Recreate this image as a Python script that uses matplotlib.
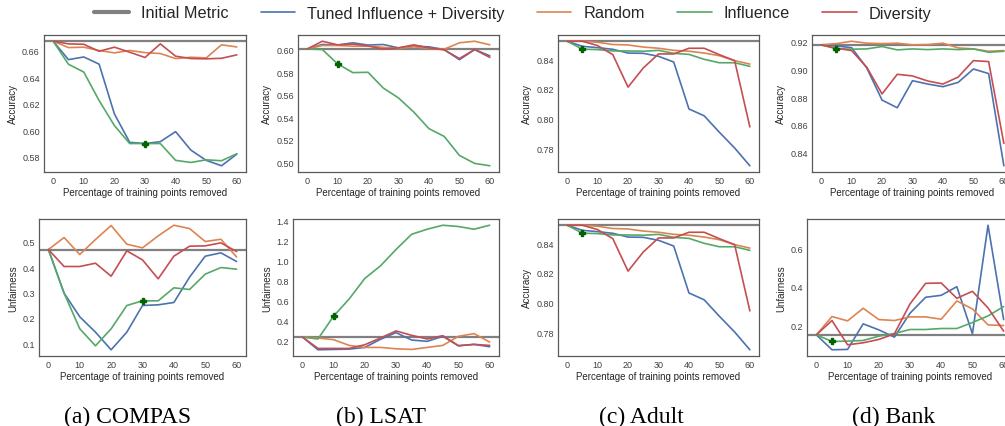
import matplotlib
matplotlib.use('Agg')
import matplotlib.pyplot as plt
from matplotlib.lines import Line2D
import seaborn as sns

sns.set_style('white')
plt.rcParams['font.family'] = ['Liberation Sans', 'DejaVu Sans']

pct = [0, 5, 10, 15, 20, 25, 30, 35, 40, 45, 50, 55, 60]

# ---- accuracy ----
compas_acc_init = 0.6673
compas_acc_tuned = [0.6673, 0.6534, 0.6554, 0.6500, 0.6124, 0.5909, 0.5900, 0.5914, 0.5990, 0.5850, 0.5773, 0.5732, 0.5820]
compas_acc_random = [0.6673, 0.6625, 0.6628, 0.6603, 0.6585, 0.6603, 0.6587, 0.6580, 0.6542, 0.6552, 0.6547, 0.6646, 0.6630]
compas_acc_infl = [0.6673, 0.6499, 0.6440, 0.6225, 0.6036, 0.5900, 0.5900, 0.5900, 0.5773, 0.5757, 0.5777, 0.5770, 0.5823]
compas_acc_div = [0.6673, 0.6653, 0.6650, 0.6597, 0.6628, 0.6590, 0.6550, 0.6653, 0.6560, 0.6542, 0.6540, 0.6544, 0.6570]

lsat_acc_init = 0.6005
lsat_acc_tuned = [0.6005, 0.6045, 0.6040, 0.6060, 0.6040, 0.6045, 0.6015, 0.6030, 0.6024, 0.6000, 0.5910, 0.6000, 0.5944]
lsat_acc_random = [0.6005, 0.6036, 0.6036, 0.6030, 0.6030, 0.6020, 0.6010, 0.6024, 0.6010, 0.6003, 0.6060, 0.6074, 0.6042]
lsat_acc_infl = [0.6005, 0.6000, 0.5873, 0.5795, 0.5798, 0.5658, 0.5570, 0.5445, 0.5297, 0.5228, 0.5059, 0.4988, 0.4967]
lsat_acc_div = [0.6005, 0.6074, 0.6042, 0.6048, 0.6033, 0.6003, 0.6015, 0.6042, 0.6015, 0.5997, 0.5920, 0.6000, 0.5930]

adult_acc_init = 0.8519
adult_acc_tuned = [0.8519, 0.8485, 0.8476, 0.8465, 0.8440, 0.8438, 0.8418, 0.8380, 0.8066, 0.8020, 0.7910, 0.7805, 0.7686]
adult_acc_random = [0.8519, 0.8519, 0.8512, 0.8497, 0.8494, 0.8480, 0.8472, 0.8458, 0.8452, 0.8440, 0.8422, 0.8389, 0.8366]
adult_acc_infl = [0.8519, 0.8466, 0.8463, 0.8454, 0.8454, 0.8452, 0.8458, 0.8438, 0.8431, 0.8398, 0.8375, 0.8375, 0.8351]
adult_acc_div = [0.8519, 0.8519, 0.8490, 0.8429, 0.8212, 0.8340, 0.8434, 0.8434, 0.8472, 0.8472, 0.8429, 0.8389, 0.7946]

bank_acc_init = 0.9174
bank_acc_tuned = [0.9174, 0.9166, 0.9154, 0.9008, 0.8778, 0.8723, 0.8917, 0.8893, 0.8874, 0.8905, 0.9001, 0.8968, 0.8307]
bank_acc_random = [0.9174, 0.9183, 0.9200, 0.9186, 0.9183, 0.9186, 0.9174, 0.9176, 0.9186, 0.9152, 0.9145, 0.9128, 0.9133]
bank_acc_infl = [0.9174, 0.9146, 0.9143, 0.9145, 0.9162, 0.9138, 0.9145, 0.9140, 0.9145, 0.9140, 0.9145, 0.9121, 0.9128]
bank_acc_div = [0.9174, 0.9150, 0.9133, 0.9013, 0.8822, 0.8963, 0.8951, 0.8915, 0.8893, 0.8943, 0.9061, 0.9054, 0.8467]

# ---- unfairness ----
compas_unf_init = 0.4686
compas_unf_tuned = [0.4686, 0.2974, 0.2046, 0.1444, 0.0752, 0.1444, 0.2490, 0.2516, 0.2608, 0.3601, 0.4425, 0.4556, 0.4216]
compas_unf_random = [0.4686, 0.5157, 0.4490, 0.5080, 0.5627, 0.4895, 0.4752, 0.5222, 0.5640, 0.5510, 0.5000, 0.5090, 0.4395]
compas_unf_infl = [0.4686, 0.2974, 0.1575, 0.0908, 0.1575, 0.2490, 0.2673, 0.2673, 0.3183, 0.3118, 0.3719, 0.3980, 0.3915]
compas_unf_div = [0.4686, 0.4020, 0.4020, 0.4150, 0.3640, 0.4634, 0.4280, 0.3536, 0.4425, 0.4817, 0.4830, 0.4948, 0.4608]

lsat_unf_init = 0.2338
lsat_unf_tuned = [0.2338, 0.1054, 0.1088, 0.1120, 0.1290, 0.2100, 0.2777, 0.2034, 0.1900, 0.2406, 0.1460, 0.1595, 0.1358]
lsat_unf_random = [0.2338, 0.2236, 0.2068, 0.1493, 0.1290, 0.1290, 0.1155, 0.1088, 0.1290, 0.1493, 0.2406, 0.2676, 0.1831]
lsat_unf_infl = [0.2338, 0.2135, 0.4430, 0.6155, 0.8216, 0.9470, 1.1120, 1.2650, 1.3160, 1.3560, 1.3430, 1.3160, 1.3560]
lsat_unf_div = [0.2338, 0.1190, 0.1190, 0.1190, 0.1560, 0.2236, 0.2946, 0.2507, 0.2135, 0.2470, 0.1460, 0.1595, 0.1493]

bank_unf_init = 0.1517
bank_unf_tuned = [0.1517, 0.0741, 0.0759, 0.2086, 0.1776, 0.1397, 0.2638, 0.3466, 0.3569, 0.4017, 0.1569, 0.7207, 0.2310]
bank_unf_random = [0.1517, 0.2466, 0.2241, 0.2897, 0.2310, 0.2259, 0.2448, 0.2448, 0.2328, 0.3276, 0.2862, 0.2034, 0.2000]
bank_unf_infl = [0.1517, 0.1172, 0.1190, 0.1224, 0.1448, 0.1586, 0.1793, 0.1793, 0.1845, 0.1845, 0.2155, 0.2500, 0.2983]
bank_unf_div = [0.1517, 0.2259, 0.1000, 0.1103, 0.1276, 0.1569, 0.3120, 0.4190, 0.4207, 0.3414, 0.3776, 0.2914, 0.1707]

# chosen influence points (index into pct)
compas_acc_pick = 6
lsat_acc_pick = 2
adult_acc_pick = 1
bank_acc_pick = 1
compas_unf_pick = 6
lsat_unf_pick = 2
bank_unf_pick = 1

labels = ['Initial Metric', 'Tuned Influence + Diversity', 'Random', 'Influence', 'Diversity']
captions = ['(a) COMPAS', '(b) LSAT', '(c) Adult', '(d) Bank']

c_init = '#808080'
c_tuned = '#4C72B0'
c_random = '#DD8452'
c_infl = '#55A868'
c_div = '#C44E52'

W, H = 1005, 427
fig = plt.figure(figsize=(W / 100, H / 100), dpi=100)


def px_axes(left, top, width, height):
    return fig.add_axes([left / W, 1 - (top + height) / H, width / W, height / H])


def draw_panel(ax, init, tuned, random, infl, div, pick, ylabel):
    ax.axhline(init, color=c_init, lw=1.6)
    ax.plot(pct, tuned, color=c_tuned, lw=1.2)
    ax.plot(pct, random, color=c_random, lw=1.2)
    ax.plot(pct, infl, color=c_infl, lw=1.2)
    ax.plot(pct, div, color=c_div, lw=1.2)
    ax.plot(pct[pick], infl[pick], marker='P', color='darkgreen', ms=4.5, zorder=5)
    ax.set_xticks([0, 10, 20, 30, 40, 50, 60])
    ax.tick_params(labelsize=6.5, colors='.25', length=0, pad=3)
    ax.set_xlabel('Percentage of training points removed', fontsize=7, color='.15', labelpad=1)
    ax.set_ylabel(ylabel, fontsize=7, color='.15', labelpad=3)
    for s in ax.spines.values():
        s.set_color('.35')
        s.set_linewidth(0.9)


ax1 = px_axes(44, 36, 202, 137)
ax2 = px_axes(298, 36, 201, 137)
ax3 = px_axes(558, 36, 201, 137)
ax4 = px_axes(812, 36, 201, 137)
ax5 = px_axes(39, 220, 207, 137)
ax6 = px_axes(293, 220, 206, 137)
ax7 = px_axes(558, 220, 201, 137)
ax8 = px_axes(807, 220, 206, 137)

draw_panel(ax1, compas_acc_init, compas_acc_tuned, compas_acc_random, compas_acc_infl, compas_acc_div, compas_acc_pick, 'Accuracy')
draw_panel(ax2, lsat_acc_init, lsat_acc_tuned, lsat_acc_random, lsat_acc_infl, lsat_acc_div, lsat_acc_pick, 'Accuracy')
draw_panel(ax3, adult_acc_init, adult_acc_tuned, adult_acc_random, adult_acc_infl, adult_acc_div, adult_acc_pick, 'Accuracy')
draw_panel(ax4, bank_acc_init, bank_acc_tuned, bank_acc_random, bank_acc_infl, bank_acc_div, bank_acc_pick, 'Accuracy')
draw_panel(ax5, compas_unf_init, compas_unf_tuned, compas_unf_random, compas_unf_infl, compas_unf_div, compas_unf_pick, 'Unfairness')
draw_panel(ax6, lsat_unf_init, lsat_unf_tuned, lsat_unf_random, lsat_unf_infl, lsat_unf_div, lsat_unf_pick, 'Unfairness')
draw_panel(ax7, adult_acc_init, adult_acc_tuned, adult_acc_random, adult_acc_infl, adult_acc_div, adult_acc_pick, 'Accuracy')
draw_panel(ax8, bank_unf_init, bank_unf_tuned, bank_unf_random, bank_unf_infl, bank_unf_div, bank_unf_pick, 'Unfairness')

ax5.set_yticks([0.1, 0.2, 0.3, 0.4, 0.5])
ax8.set_yticks([0.2, 0.4, 0.6])

handles = [Line2D([], [], color=c_init, lw=3),
           Line2D([], [], color=c_tuned, lw=1.2),
           Line2D([], [], color=c_random, lw=1.2),
           Line2D([], [], color=c_infl, lw=1.2),
           Line2D([], [], color=c_div, lw=1.2)]
fig.legend(handles, labels, loc='center', bbox_to_anchor=(513 / W, 1 - 14 / H),
           ncol=5, frameon=False, fontsize=11.7, handlelength=2.1,
           handletextpad=0.75, columnspacing=2.0)

for cx, cap in zip([128, 381, 641, 894], captions):
    fig.text(cx / W, 4 / H, cap, ha='center', va='baseline', fontsize=17,
             family='Liberation Serif', color='black')

fig.savefig('out.png', dpi=100)
